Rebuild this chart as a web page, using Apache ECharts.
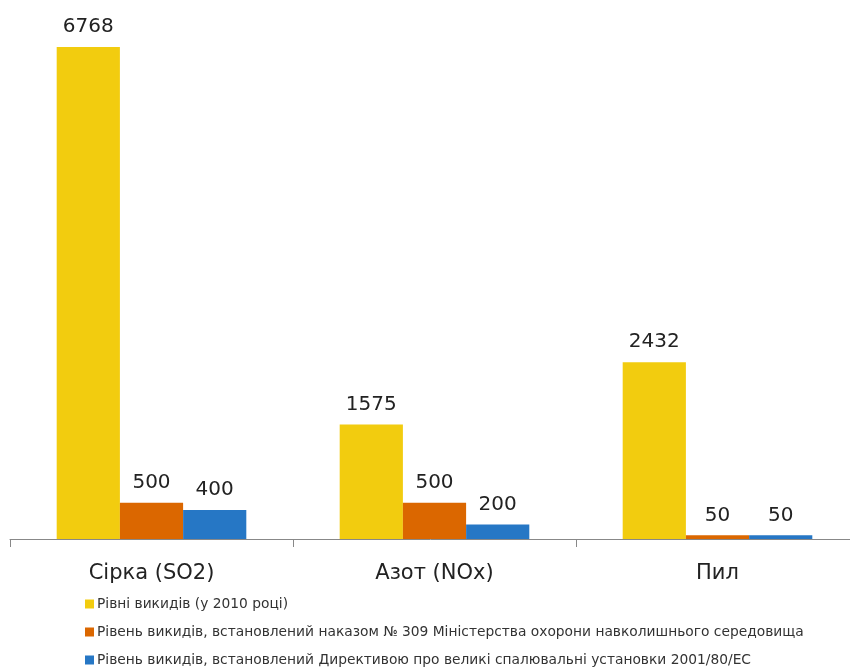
<!DOCTYPE html>
<html><head><meta charset="utf-8">
<script src="https://cdn.jsdelivr.net/npm/echarts@6/dist/echarts.min.js"></script>
<style>html,body{margin:0;padding:0;background:#fff}#c{width:850px;height:669px}</style>
</head><body><div id="c"></div>
<script>
const categories = ['Сірка (SO2)', 'Азот (NOx)', 'Пил'];
const seriesNames = [
  'Рівні викидів (у 2010 році)',
  'Рівень викидів, встановлений наказом № 309 Міністерства охорони навколишнього середовища',
  'Рівень викидів, встановлений Директивою про великі спалювальні установки 2001/80/EC'
];
const values2010 = [6768, 1575, 2432];
const values309 = [500, 500, 50];
const valuesEU = [400, 200, 50];
const colors = ['#F2CC0F', '#DB6700', '#2677C5'];

const font = 'DejaVu Sans';
const chart = echarts.init(document.getElementById('c'));
const mk = (name, data, color) => ({
  name, type: 'bar', data, barGap: '0%', barCategoryGap: '33%',
  itemStyle: { color },
  label: { show: true, position: 'top', distance: 10, color: '#222', fontSize: 20, fontFamily: font }
});
chart.setOption({
  animation: false,
  grid: { left: 10, top: 47, width: 849, bottom: 130, containLabel: false, outerBoundsMode: 'none' },
  xAxis: {
    type: 'category', data: categories,
    axisLine: { lineStyle: { color: '#888' } },
    axisTick: { show: true, alignWithLabel: false, length: 8, lineStyle: { color: '#888' } },
    axisLabel: { color: '#222', fontSize: 21, fontFamily: font, margin: 24 }
  },
  yAxis: { type: 'value', min: 0, max: 6768, show: false, splitLine: { show: false } },
  legend: {
    orient: 'vertical', left: 85, top: 596, padding: 0, itemWidth: 9, itemHeight: 9, itemGap: 12,
    icon: 'rect',
    textStyle: { color: '#333', fontSize: 13.8, lineHeight: 16, fontFamily: font, padding: [0, 0, 0, -2] }
  },
  series: [mk(seriesNames[0], values2010, colors[0]), mk(seriesNames[1], values309, colors[1]), mk(seriesNames[2], valuesEU, colors[2])]
});
</script></body></html>
